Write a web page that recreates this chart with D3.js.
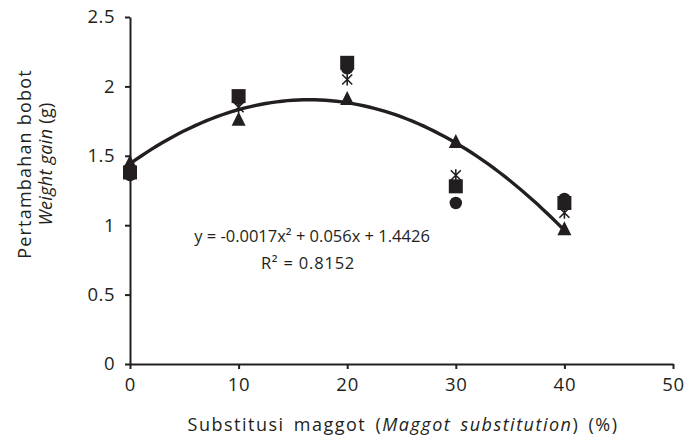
<!DOCTYPE html>
<html>
<head>
<meta charset="utf-8">
<script src="https://cdn.jsdelivr.net/npm/d3@7"></script>
<style>
  body { margin: 0; background: #fff; }
  svg text { font-family: "Open Sans", "Noto Sans", sans-serif; fill: #231f20; }
  .axis path, .axis line { stroke: #231f20; stroke-width: 2; }
</style>
</head>
<body>
<svg id="chart" width="689" height="442"></svg>
<script>
// --- Data ---
const levels = [0, 10, 20, 30, 40];
const squareVals = [1.38, 1.93, 2.17, 1.28, 1.16];
const circleVals = [1.36, 1.91, 2.13, 1.16, 1.19];
const triangleVals = [1.45, 1.76, 1.91, 1.60, 0.97];
const starVals = [1.40, 1.85, 2.05, 1.36, 1.09];
const xTicks = [0, 10, 20, 30, 40, 50];
const yTicks = [0, 0.5, 1, 1.5, 2, 2.5];
const trendCoef = [1.4426, 0.056, -0.0017]; // c0 + c1 x + c2 x^2
const eqLine1 = "y = -0.0017x\u00B2 + 0.056x + 1.4426";
const eqLine2 = "R\u00B2 = 0.8152";

const svg = d3.select("#chart");

const x = d3.scaleLinear().domain([0, 50]).range([130, 673]);
const y = d3.scaleLinear().domain([0, 2.5]).range([364, 17]);

// axes
svg.append("g")
    .attr("class", "axis")
    .attr("transform", `translate(0,${y(0)})`)
    .call(d3.axisBottom(x).tickValues(xTicks).tickSize(5).tickSizeOuter(0).tickPadding(7))
    .call(g => g.selectAll("text").attr("font-size", 18.5).attr("letter-spacing", 0.8).attr("dy", "0.8em"));

svg.append("g")
    .attr("class", "axis")
    .attr("transform", `translate(${x(0)},0)`)
    .call(d3.axisLeft(y).tickValues(yTicks).tickSize(5).tickSizeOuter(0).tickPadding(10)
        .tickFormat(d => String(d)))
    .call(g => g.selectAll("text").attr("font-size", 18.5).attr("letter-spacing", 0.5));

// markers
const series = [
    { vals: circleVals, shape: "circle" },
    { vals: squareVals, shape: "square" },
    { vals: triangleVals, shape: "triangle" },
    { vals: starVals, shape: "star" }
];

series.forEach(s => {
    const g = svg.append("g");
    s.vals.forEach((v, i) => {
        const cx = x(levels[i]), cy = y(v);
        if (s.shape === "circle") {
            g.append("circle").attr("cx", cx).attr("cy", cy).attr("r", 6.2).attr("fill", "#231f20");
        } else if (s.shape === "square") {
            g.append("rect").attr("x", cx - 7).attr("y", cy - 7)
                .attr("width", 14).attr("height", 14).attr("fill", "#231f20");
        } else if (s.shape === "triangle") {
            g.append("path")
                .attr("d", `M${cx},${cy - 8}L${cx + 7},${cy + 6}L${cx - 7},${cy + 6}Z`)
                .attr("fill", "#231f20");
        } else {
            g.append("path")
                .attr("d", `M${cx - 5},${cy - 5}L${cx + 5},${cy + 5}M${cx + 5},${cy - 5}L${cx - 5},${cy + 5}M${cx},${cy - 6}L${cx},${cy + 6}`)
                .attr("stroke", "#231f20").attr("stroke-width", 1.6).attr("fill", "none");
        }
    });
});

// polynomial trendline
const trendX = d3.range(0, 40.01, 0.5);
const trend = d => trendCoef[0] + trendCoef[1] * d + trendCoef[2] * d * d;
svg.append("path")
    .datum(trendX)
    .attr("fill", "none")
    .attr("stroke", "#231f20")
    .attr("stroke-width", 3.4)
    .attr("d", d3.line().x(d => x(d)).y(d => y(trend(d))));

// equation
svg.append("text").attr("x", 312).attr("y", 242).attr("text-anchor", "middle")
    .attr("font-size", 16.5).text(eqLine1);
svg.append("text").attr("x", 308).attr("y", 269).attr("text-anchor", "middle")
    .attr("font-size", 16.5).attr("letter-spacing", 0.8).text(eqLine2);

// axis titles
const xt = svg.append("text").attr("x", 403).attr("y", 431).attr("text-anchor", "middle")
    .attr("font-size", 18).attr("letter-spacing", 1.5).attr("word-spacing", 3);
xt.append("tspan").text("Substitusi maggot (");
xt.append("tspan").attr("font-style", "italic").text("Maggot substitution");
xt.append("tspan").text(") (%)");

const yt = svg.append("g").attr("transform", "translate(0,164) rotate(-90)");
yt.append("text").attr("x", 0).attr("y", 31).attr("text-anchor", "middle").attr("font-size", 18)
    .attr("letter-spacing", 1.2).text("Pertambahan bobot");
const yt2 = yt.append("text").attr("x", 0).attr("y", 52).attr("text-anchor", "middle")
    .attr("font-size", 18).attr("letter-spacing", 0.3);
yt2.append("tspan").attr("font-style", "italic").text("Weight gain");
yt2.append("tspan").text(" (g)");
</script>
</body>
</html>
